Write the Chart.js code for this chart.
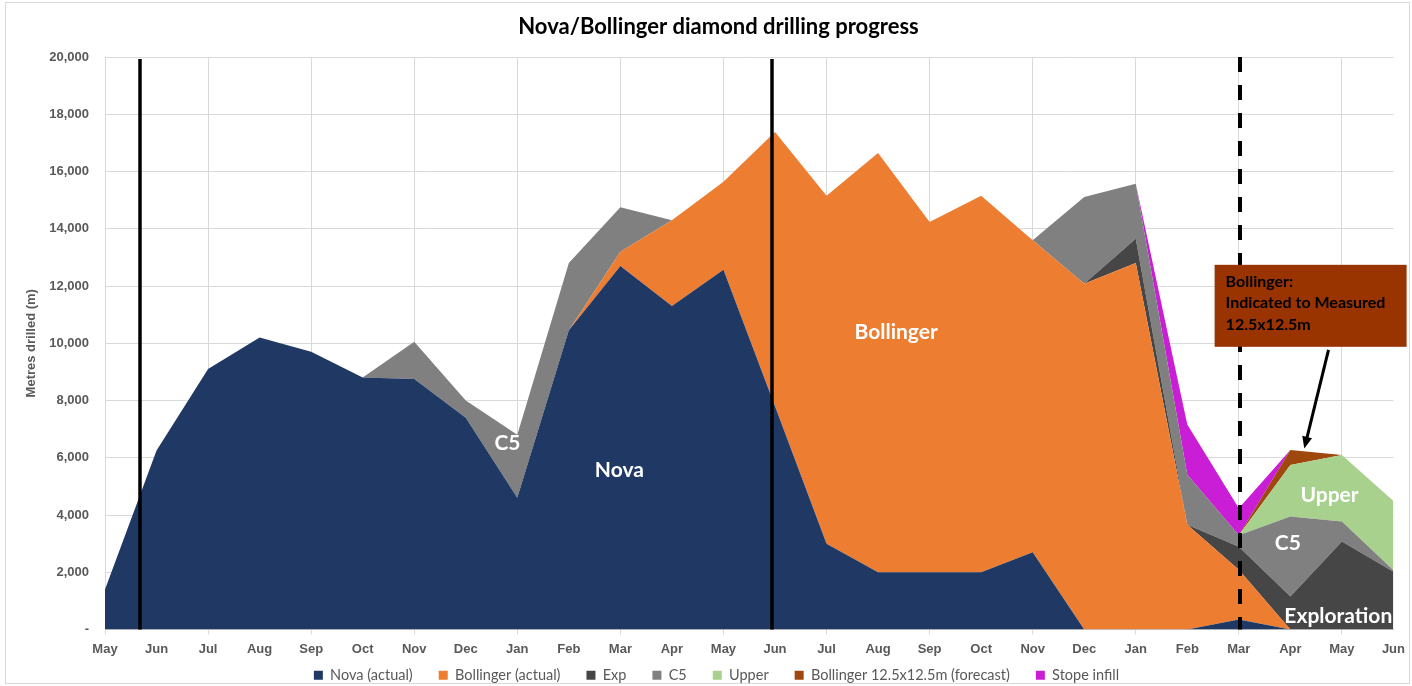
<!DOCTYPE html>
<html>
<head>
<meta charset="utf-8">
<script src="https://cdn.jsdelivr.net/npm/chart.js@4.4.1/dist/chart.umd.min.js"></script>
<style>
  body { margin: 0; background: #fff; }
  #wrap { width: 1412px; height: 686px; }
</style>
</head>
<body>
<div id="wrap"><canvas id="chart" width="1412" height="686"></canvas></div>
<script>
// months, May (year 1) to Jun (year 3)
var months = ['May', 'Jun', 'Jul', 'Aug', 'Sep', 'Oct', 'Nov', 'Dec', 'Jan', 'Feb', 'Mar', 'Apr', 'May',
  'Jun', 'Jul', 'Aug', 'Sep', 'Oct', 'Nov', 'Dec', 'Jan', 'Feb', 'Mar', 'Apr', 'May', 'Jun'];

// metres drilled per month (stacked)
var novaActual = [1400, 6250, 9100, 10200, 9700, 8800, 8750, 7400, 4600, 10450, 12700, 11300, 12570,
  7800, 3000, 2000, 2000, 2000, 2700, 0, 0, 0, 350, 0, 0, 0];
var bollingerActual = [0, 0, 0, 0, 0, 0, 0, 0, 0, 0, 500, 3000, 3070,
  9580, 12150, 14650, 12240, 13150, 10900, 12080, 12800, 3660, 1740, 0, 0, 0];
var exp = [0, 0, 0, 0, 0, 0, 0, 0, 0, 0, 0, 0, 0,
  0, 0, 0, 0, 0, 0, 0, 850, 0, 800, 1150, 3070, 2020];
var c5 = [0, 0, 0, 0, 0, 0, 1300, 600, 2200, 2350, 1550, 0, 0,
  0, 0, 0, 0, 0, 0, 3030, 1920, 1750, 400, 2800, 700, 50];
var upper = [0, 0, 0, 0, 0, 0, 0, 0, 0, 0, 0, 0, 0,
  0, 0, 0, 0, 0, 0, 0, 0, 0, 0, 1800, 2330, 2420];
var bollingerForecast = [0, 0, 0, 0, 0, 0, 0, 0, 0, 0, 0, 0, 0,
  0, 0, 0, 0, 0, 0, 0, 0, 0, 0, 520, 0, 0];
var stopeInfill = [0, 0, 0, 0, 0, 0, 0, 0, 0, 0, 0, 0, 0,
  0, 0, 0, 0, 0, 0, 0, 0, 1750, 950, 0, 0, 0];

var yTicks = [0, 2000, 4000, 6000, 8000, 10000, 12000, 14000, 16000, 18000, 20000];

function area(label, data, color, first) {
  return {
    label: label,
    data: data,
    backgroundColor: color,
    borderColor: 'rgba(0,0,0,0)',
    borderWidth: 0,
    pointRadius: 0,
    tension: 0,
    fill: first ? 'origin' : '-1'
  };
}

// lines, area labels and the callout box
var overlay = {
  id: 'overlay',
  afterLayout: function (chart) {
    var lg = chart.legend;
    lg.left += 19;
    lg.right += 19;
    var h = lg.bottom - lg.top;
    lg.top = 642;
    lg.bottom = 642 + h;
    chart.titleBlock.left += 21;
    chart.titleBlock.right += 21;
  },
  beforeDraw: function (chart) {
    var c = chart.ctx;
    c.save();
    c.fillStyle = '#fff';
    c.fillRect(0, 0, chart.width, chart.height);
    c.strokeStyle = '#d9d9d9';
    c.lineWidth = 1;
    c.strokeRect(5.5, 2.5, 1404, 681);
    c.restore();
  },
  afterDatasetsDraw: function (chart) {
    var c = chart.ctx, xs = chart.scales.x, ys = chart.scales.y;
    var top = chart.chartArea.top, bottom = chart.chartArea.bottom;
    c.save();

    // vertical markers
    c.strokeStyle = '#000';
    [[0.68, false], [12.95, false], [22.03, true]].forEach(function (m) {
      var px = Math.round(xs.getPixelForValue(m[0]));
      c.lineWidth = m[1] ? 4 : 3.5;
      c.setLineDash(m[1] ? [15, 13] : []);
      c.beginPath();
      c.moveTo(px, m[1] ? top : top + 2);
      c.lineTo(px, bottom);
      c.stroke();
    });
    c.setLineDash([]);

    // area names
    c.fillStyle = '#ffffff';
    c.textAlign = 'center';
    c.textBaseline = 'middle';
    c.font = 'bold 21px Lato';
    [['Nova', 9.98, 5580], ['Bollinger', 15.35, 10370], ['C5', 7.81, 6490],
     ['Upper', 23.76, 4680], ['C5', 22.95, 3000], ['Exploration', 23.93, 450]].forEach(function (t) {
      c.fillText(t[0], xs.getPixelForValue(t[1]), ys.getPixelForValue(t[2]));
    });

    // callout
    var bx = xs.getPixelForValue(21.53), by = ys.getPixelForValue(12740);
    c.fillStyle = '#993300';
    c.fillRect(bx, by, 192, 82);
    c.fillStyle = '#000';
    c.textAlign = 'left';
    c.font = 'bold 16px Lato';
    ['Bollinger:', 'Indicated to Measured', '12.5x12.5m'].forEach(function (t, i) {
      c.fillText(t, bx + 11, by + 17 + i * 21.5);
    });

    // arrow
    var x1 = xs.getPixelForValue(23.74), y1 = ys.getPixelForValue(9770);
    var x2 = xs.getPixelForValue(23.27), y2 = ys.getPixelForValue(6320);
    var ang = Math.atan2(y2 - y1, x2 - x1);
    c.strokeStyle = '#000';
    c.lineWidth = 3;
    c.beginPath();
    c.moveTo(x1, y1);
    c.lineTo(x2 - 9 * Math.cos(ang), y2 - 9 * Math.sin(ang));
    c.stroke();
    c.fillStyle = '#000';
    c.beginPath();
    c.moveTo(x2, y2);
    c.lineTo(x2 - 12 * Math.cos(ang) + 5 * Math.sin(ang), y2 - 12 * Math.sin(ang) - 5 * Math.cos(ang));
    c.lineTo(x2 - 12 * Math.cos(ang) - 5 * Math.sin(ang), y2 - 12 * Math.sin(ang) + 5 * Math.cos(ang));
    c.closePath();
    c.fill();
    c.restore();
  }
};

var ctx = document.getElementById('chart').getContext('2d');
new Chart(ctx, {
  type: 'line',
  data: {
    labels: months,
    datasets: [
      area('Nova (actual)', novaActual, '#203864', true),
      area('Bollinger (actual)', bollingerActual, '#ED7D31'),
      area('Exp', exp, '#464646'),
      area('C5', c5, '#808080'),
      area('Upper', upper, '#A9D18E'),
      area('Bollinger 12.5x12.5m (forecast)', bollingerForecast, '#9E480E'),
      area('Stope infill', stopeInfill, '#C91ED5')
    ]
  },
  options: {
    responsive: false,
    animation: false,
    events: [],
    layout: { padding: { left: 0, right: 17, top: 0, bottom: -24 } },
    plugins: {
      title: {
        display: true,
        text: 'Nova/Bollinger diamond drilling progress',
        color: '#000',
        font: { family: 'Lato', size: 22, weight: 'bold' },
        padding: { top: 14, bottom: 16.6 }
      },
      legend: {
        position: 'bottom',
        labels: {
          boxWidth: 9,
          boxHeight: 9,
          padding: 26,
          color: '#595959',
          font: { family: 'Lato', size: 14.5 }
        }
      },
      tooltip: { enabled: false }
    },
    scales: {
      x: {
        afterFit: function (s) { s.height = 30; },
        grid: {
          color: function (c) { return c.index % 2 === 0 ? '#d9d9d9' : 'rgba(0,0,0,0)'; },
          tickLength: 5
        },
        border: { color: '#bfbfbf' },
        ticks: {
          autoSkip: false,
          maxRotation: 0,
          padding: 7,
          color: '#595959',
          font: { family: 'Liberation Sans', size: 13, weight: 'bold' }
        }
      },
      y: {
        stacked: true,
        min: 0,
        max: 20000,
        afterFit: function (s) { s.width = 105; },
        afterBuildTicks: function (s) { s.ticks = yTicks.map(function (v) { return { value: v }; }); },
        grid: { color: '#d9d9d9', drawTicks: false },
        border: { display: false },
        title: {
          display: true,
          text: 'Metres drilled (m)',
          color: '#595959',
          font: { family: 'Liberation Sans', size: 13, weight: 'bold' },
          padding: { top: 24, bottom: 0 }
        },
        ticks: {
          padding: 16,
          color: '#595959',
          font: { family: 'Liberation Sans', size: 13, weight: 'bold' },
          callback: function (v) { return v === 0 ? '-' : v.toLocaleString('en-US'); }
        }
      }
    }
  },
  plugins: [overlay]
});
</script>
</body>
</html>
